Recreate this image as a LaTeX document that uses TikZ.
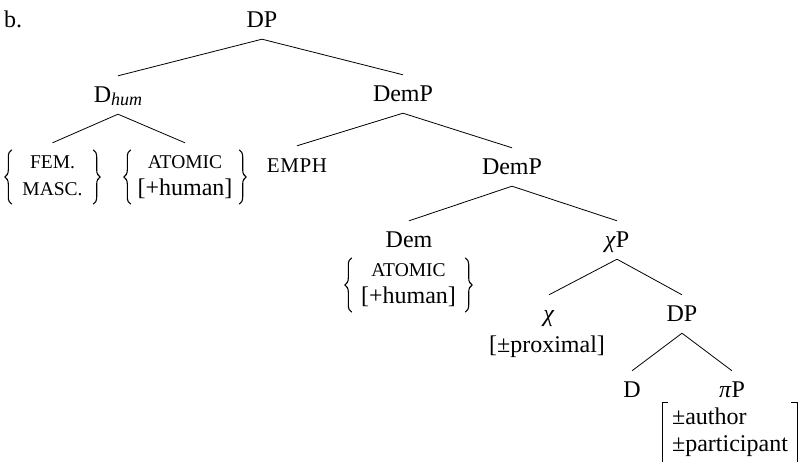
\documentclass[tikz,border=0pt]{standalone}
\usepackage{fontspec}
\setmainfont{Liberation Serif}
\usetikzlibrary{decorations.pathreplacing}
\newcommand\mysc[1]{{\fontsize{19.5}{27}\selectfont #1}}
\begin{document}
\begin{tikzpicture}[x=1pt,y=-1pt,
  lab/.style={font=\fontsize{24}{27}\selectfont, text height=20pt, text depth=4pt, inner xsep=0pt, inner ysep=7pt, anchor=base},
  blk/.style={font=\fontsize{24}{27}\selectfont, inner sep=0pt, anchor=center},
  edge/.style={line width=0.8pt},
  brc/.style={line width=1.1pt, decorate, decoration={brace, amplitude=7pt}},
  brk/.style={line width=1pt}]
\useasboundingbox (0,0) rectangle (801,462);
\node[lab, anchor=base west] (lbl) at (4,28) {b.};
\node[lab] (DP) at (262,28) {DP};
\node[lab] (Dhum) at (118,103) {D\raisebox{-3pt}{\fontsize{18}{18}\selectfont\itshape hum}};
\node[lab] (DemP) at (403,102) {DemP};
\node[blk, minimum width=81pt, minimum height=53pt] (fem) at (52.5,177) {\begin{tabular}{c}\mysc{FEM.}\\ \mysc{MASC.}\end{tabular}};
\node[blk, minimum width=108pt, minimum height=53pt] (atom) at (185,177) {\begin{tabular}{c}\mysc{ATOMIC}\\ {[+human]}\end{tabular}};
\node[lab] (emph) at (297,173) {{\fontsize{21}{27}\selectfont\addfontfeature{LetterSpace=3}EMPH}};
\node[lab] (DemP2) at (512,175) {DemP};
\node[lab] (Dem) at (409,248) {Dem};
\node[blk, minimum width=113pt, minimum height=52pt] (demf) at (408.5,285) {\begin{tabular}{c}\mysc{ATOMIC}\\ {[+human]}\end{tabular}};
\node[lab] (chiP) at (617,248) {\textit{χ}P};
\node[lab] (chi) at (549,322) {\textit{χ}};
\node[blk] (prox) at (547,347) {[±proximal]};
\node[lab] (DP2) at (682,322) {DP};
\node[lab] (D) at (632,398) {D};
\node[lab] (piP) at (732,398) {\textit{π}P};
\node[blk, minimum width=134pt, minimum height=59pt] (auth) at (730,432.5) {\begin{tabular}{@{}l@{}}±author\\ ±participant\end{tabular}};
% braces and brackets
\draw[brc] (fem.south west) -- (fem.north west);
\draw[brc] (fem.north east) -- (fem.south east);
\draw[brc] (atom.south west) -- (atom.north west);
\draw[brc] (atom.north east) -- (atom.south east);
\draw[brc] (demf.south west) -- (demf.north west);
\draw[brc] (demf.north east) -- (demf.south east);
\draw[brk] ([xshift=5pt]auth.north west) -- (auth.north west) -- (auth.south west);
\draw[brk] ([xshift=-6pt]auth.north east) -- (auth.north east) -- (auth.south east);
% edges
\draw[edge] (DP.south) -- (Dhum.north);
\draw[edge] (DP.south) -- (DemP.north);
\draw[edge] (Dhum.south) -- ([yshift=7pt]fem.north);
\draw[edge] (Dhum.south) -- ([yshift=7pt]atom.north);
\draw[edge] (DemP.south) -- (emph.north);
\draw[edge] (DemP.south) -- (DemP2.north);
\draw[edge] (DemP2.south) -- (Dem.north);
\draw[edge] (DemP2.south) -- (chiP.north);
\draw[edge] (chiP.south) -- (chi.north);
\draw[edge] (chiP.south) -- (DP2.north);
\draw[edge] (DP2.south) -- (D.north);
\draw[edge] (DP2.south) -- (piP.north);
\end{tikzpicture}
\end{document}
